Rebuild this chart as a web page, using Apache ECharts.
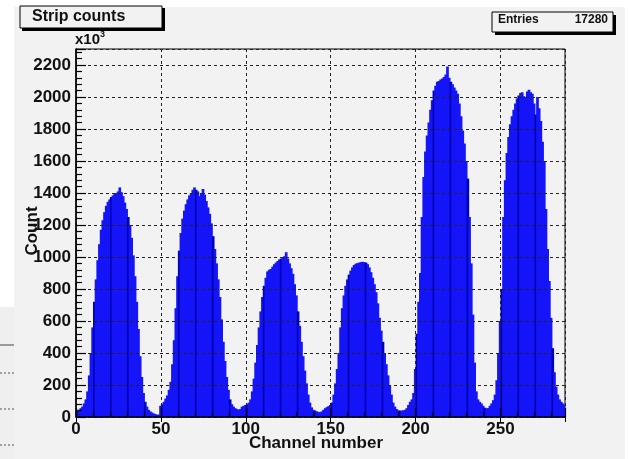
<!DOCTYPE html>
<html>
<head>
<meta charset="utf-8">
<script src="https://cdn.jsdelivr.net/npm/echarts@6/dist/echarts.min.js"></script>
<style>
html,body{margin:0;padding:0;background:#ffffff;}
#chart{width:628px;height:459px;}
</style>
</head>
<body>
<div id="chart"></div>
<script>
// Strip counts, values in units of 10^3, one value per channel (bins 0..287)
const peak1 = [40,45,55,65,85,110,160,260,400,560,720,860,980,1080,1170,1230,1280,1320,1345,1360,1375,1385,1395,1400,1410,1435,1405,1380,1340,1300,1250,1200,1120,1010,880,720,550,380,250,150,95,65,45,35,28,22,18,14];
const peak2 = [15,70,80,95,115,135,170,220,330,480,680,880,1040,1150,1240,1290,1330,1360,1385,1400,1420,1435,1420,1410,1380,1400,1425,1390,1350,1310,1270,1210,1130,1050,960,860,750,610,470,350,250,170,110,80,65,55,50,45];
const peak3 = [50,65,70,75,80,90,110,160,240,340,450,560,660,750,820,870,910,920,925,940,955,965,975,985,990,1000,1005,1030,990,960,930,895,830,760,660,570,470,380,290,210,140,90,60,45,40,35,32,30];
const peak4 = [35,45,55,62,68,75,90,140,210,300,400,560,680,760,820,860,890,915,935,950,958,962,965,968,970,968,965,955,935,905,870,830,780,710,620,540,470,400,330,260,200,140,90,65,50,42,40,40];
const peak5 = [42,45,55,75,95,110,150,300,520,720,900,1250,1500,1660,1760,1840,1920,1980,2040,2070,2095,2100,2110,2115,2125,2140,2190,2120,2095,2080,2060,2040,2020,1960,1880,1790,1710,1600,1490,1250,960,640,340,160,110,95,85,70];
const peak6 = [58,54,56,70,85,105,140,230,400,600,800,1250,1480,1650,1750,1830,1880,1920,1960,1990,2010,2025,2030,2005,2000,2035,2045,2030,2020,1960,1890,2000,1930,1850,1720,1600,1300,1050,850,620,430,280,190,140,110,95,85,75];
const counts = [].concat(peak1, peak2, peak3, peak4, peak5, peak6);
const xTicks = [0, 50, 100, 150, 200, 250];
const yTicks = [0, 200, 400, 600, 800, 1000, 1200, 1400, 1600, 1800, 2000, 2200];
const titleText = 'Strip counts';
const entriesLabel = 'Entries';
const entriesValue = '17280';
const xTitle = 'Channel number';
const yTitle = 'Count';

const seriesData = counts.map((v, i) => [i, v]);
const FONT = '"Liberation Sans", Arial, sans-serif';
const BG = '#f2f2f2';

const chart = echarts.init(document.getElementById('chart'), null, {renderer: 'canvas'});

const gridL = 76, gridT = 49, gridR = 63, gridB = 42;

chart.setOption({
  animation: false,
  backgroundColor: 'transparent',
  grid: {left: gridL, top: gridT, right: gridR, bottom: gridB, show: true, borderColor: '#000', borderWidth: 1, backgroundColor: 'transparent', containLabel: false},
  xAxis: [{
    type: 'value', min: 0, max: 288, interval: 50, position: 'bottom',
    axisLine: {show: true, onZero: false, lineStyle: {color: '#000', width: 1.5}},
    axisTick: {show: true, inside: true, length: 9, lineStyle: {color: '#000', width: 1.2}},
    minorTick: {show: true, splitNumber: 5, length: 5, lineStyle: {color: '#000', width: 1.2}},
    axisLabel: {show: true, color: '#111', fontFamily: FONT, fontWeight: 'bold', fontSize: 17, margin: 4, showMaxLabel: false,
      formatter: v => xTicks.indexOf(v) >= 0 ? String(v) : ''},
    splitLine: {show: true, lineStyle: {color: '#222', width: 1, type: [3, 3]}},
    z: 10
  }, {
    type: 'value', min: 0, max: 288, interval: 50, position: 'top',
    axisLine: {show: false},
    axisTick: {show: true, inside: true, length: 5, lineStyle: {color: '#000'}},
    axisLabel: {show: false},
    splitLine: {show: false}
  }],
  yAxis: [{
    type: 'value', min: 0, max: 2300, interval: 200,
    axisLine: {show: true, onZero: false, lineStyle: {color: '#000', width: 1.5}},
    axisTick: {show: true, inside: true, length: 10, lineStyle: {color: '#000', width: 1.2}},
    minorTick: {show: true, splitNumber: 5, length: 6, lineStyle: {color: '#000', width: 1.2}},
    axisLabel: {show: true, color: '#111', fontFamily: FONT, fontWeight: 'bold', fontSize: 17, margin: 5, showMaxLabel: false,
      formatter: v => yTicks.indexOf(v) >= 0 ? String(v) : ''},
    splitLine: {show: true, lineStyle: {color: '#222', width: 1, type: [3, 3]}},
    z: 10
  }],
  series: [{
    type: 'custom',
    xAxisIndex: 0,
    yAxisIndex: 0,
    clip: true,
    z: 2,
    data: seriesData,
    renderItem: function (params, api) {
      const ch = api.value(0), v = api.value(1);
      const p0 = api.coord([ch, 0]);
      const p1 = api.coord([ch + 1, v]);
      const dark = (ch % 10 === 0);
      return {
        type: 'rect',
        shape: {x: p0[0], y: p1[1], width: (p1[0] - p0[0]) + 1, height: p0[1] - p1[1]},
        style: {fill: dark ? '#0000b8' : '#1515f8'}
      };
    }
  }],
  graphic: [
    // canvas background panels
    {type: 'rect', z: -10, shape: {x: 14, y: 7, width: 611, height: 452}, style: {fill: BG}},
    {type: 'rect', z: -10, shape: {x: 0, y: 307, width: 14, height: 152}, style: {fill: '#efefef'}},
    {type: 'line', z: -9, shape: {x1: 0, y1: 345, x2: 14, y2: 345}, style: {stroke: '#444', lineWidth: 1}},
    {type: 'line', z: -9, shape: {x1: 0, y1: 373, x2: 14, y2: 373}, style: {stroke: '#555', lineWidth: 1, lineDash: [2, 2]}},
    {type: 'line', z: -9, shape: {x1: 0, y1: 409, x2: 14, y2: 409}, style: {stroke: '#555', lineWidth: 1, lineDash: [2, 2]}},
    {type: 'line', z: -9, shape: {x1: 0, y1: 445, x2: 14, y2: 445}, style: {stroke: '#555', lineWidth: 1, lineDash: [2, 2]}},
    // title box with shadow
    {type: 'rect', z: 20, shape: {x: 22, y: 8, width: 143, height: 23}, style: {fill: '#000'}},
    {type: 'rect', z: 21, shape: {x: 20, y: 6, width: 142, height: 22}, style: {fill: BG, stroke: '#000', lineWidth: 1}},
    {type: 'text', z: 22, style: {x: 32, y: 17, text: titleText, font: 'bold 16px ' + FONT, fill: '#111', verticalAlign: 'middle', align: 'left'}},
    // stats box with shadow
    {type: 'rect', z: 20, shape: {x: 495, y: 15, width: 121, height: 20}, style: {fill: '#000'}},
    {type: 'rect', z: 21, shape: {x: 492, y: 12, width: 121, height: 20}, style: {fill: BG, stroke: '#000', lineWidth: 1}},
    {type: 'text', z: 22, style: {x: 498, y: 20, text: entriesLabel, font: 'bold 12px ' + FONT, fill: '#111', verticalAlign: 'middle', align: 'left'}},
    {type: 'text', z: 22, style: {x: 608, y: 20, text: entriesValue, font: 'bold 12px ' + FONT, fill: '#111', verticalAlign: 'middle', align: 'right'}},
    // exponent label
    {type: 'text', z: 22, style: {x: 75, y: 47, text: '{b|x10}{s|3}', verticalAlign: 'bottom', align: 'left',
      rich: {b: {font: 'bold 15px ' + FONT, fill: '#111', verticalAlign: 'bottom'}, s: {font: 'bold 9px ' + FONT, fill: '#111', verticalAlign: 'top', padding: [0, 0, 8, 0]}}}},
    // axis titles
    {type: 'text', z: 22, style: {x: 316, y: 443, text: xTitle, font: 'bold 17px ' + FONT, fill: '#111', align: 'center', verticalAlign: 'middle'}},
    {type: 'text', z: 22, x: 32, y: 231, rotation: Math.PI / 2, style: {x: 0, y: 0, text: yTitle, font: 'bold 17px ' + FONT, fill: '#111', align: 'center', verticalAlign: 'middle'}}
  ]
});
</script>
</body>
</html>
